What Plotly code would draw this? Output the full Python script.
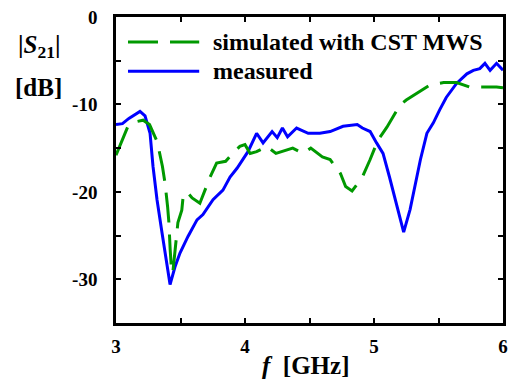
import plotly.graph_objects as go

# Measured |S21| (blue)
meas_f = [3.00, 3.05, 3.10, 3.15, 3.186, 3.225, 3.264, 3.287, 3.318, 3.357, 3.395, 3.419,
          3.457, 3.496, 3.558, 3.628, 3.674, 3.752, 3.829, 3.884, 3.938, 3.984, 4.023,
          4.09, 4.14, 4.21, 4.25, 4.29, 4.33, 4.40, 4.49, 4.58, 4.66, 4.76, 4.87, 4.91,
          4.97, 5.02, 5.07, 5.12, 5.16, 5.20, 5.23, 5.28, 5.32, 5.36, 5.41, 5.46, 5.51,
          5.56, 5.64, 5.72, 5.77, 5.82, 5.86, 5.90, 5.95, 6.00]
meas_db = [-12.3, -12.2, -11.6, -11.1, -10.8, -11.3, -13.3, -17.1, -20.9, -24.7, -28.6, -30.6,
           -28.6, -27.0, -25.1, -23.2, -22.6, -20.9, -19.8, -18.3, -17.3, -16.3, -15.4,
           -13.3, -14.4, -13.1, -13.8, -12.7, -13.7, -12.7, -13.3, -13.3, -13.1, -12.5, -12.3, -12.7,
           -13.1, -14.4, -15.6, -18.3, -20.6, -22.9, -24.6, -22.0, -19.0, -16.3, -13.3, -12.1, -10.6,
           -9.2, -7.6, -6.5, -6.1, -5.9, -5.3, -6.1, -5.3, -6.1]

# Simulated with CST MWS (green dashed)
sim_f = [3.00, 3.05, 3.09, 3.147, 3.21, 3.26, 3.32, 3.36, 3.38, 3.40, 3.41, 3.42, 3.43,
         3.44, 3.46, 3.48, 3.51, 3.52, 3.55, 3.59, 3.65, 3.69, 3.73, 3.78, 3.85, 3.91,
         3.96, 4.00, 4.04, 4.09, 4.17, 4.24, 4.32, 4.37, 4.45, 4.51, 4.60, 4.66, 4.74,
         4.78, 4.83, 4.85, 4.91, 4.97, 5.03, 5.10, 5.15, 5.20, 5.25, 5.33, 5.43, 5.54,
         5.64, 5.74, 5.85, 5.95, 6.00]
sim_db = [-15.8, -14.1, -12.6, -12.0, -11.8, -12.3, -14.3, -17.1, -19.0, -21.7, -23.5, -26.6, -28.9,
          -29.3, -26.3, -23.5, -22.1, -20.6, -20.0, -20.7, -21.3, -19.8, -18.3, -16.7, -16.5, -15.5,
          -14.8, -14.6, -15.6, -15.4, -14.8, -15.6, -15.2, -15.0, -15.6, -15.0, -16.0, -16.3, -17.9,
          -19.4, -19.9, -19.5, -18.3, -16.3, -14.1, -12.6, -11.4, -10.1, -9.5, -8.7, -7.8, -7.5,
          -7.5, -8.0, -8.0, -8.0, -8.1]

x_ticks = [3, 3.5, 4, 4.5, 5, 5.5, 6]
x_labels = ["3", " ", "4", " ", "5", " ", "6"]
y_ticks = [-35, -30, -25, -20, -15, -10, -5, 0]
y_labels = [" ", "-30", " ", "-20", " ", "-10", " ", "0"]

legend_names = ["simulated with CST MWS", "measured"]

BLUE = "#0000ff"
GREEN = "#009900"
FONT = "Liberation Serif"

fig = go.Figure()
fig.add_trace(go.Scatter(x=meas_f, y=meas_db, mode="lines",
                         line=dict(color=BLUE, width=3), showlegend=False))
fig.add_trace(go.Scatter(x=sim_f, y=sim_db, mode="lines",
                         line=dict(color=GREEN, width=3, dash="30px,12px"), showlegend=False))

axis_common = dict(showline=True, linecolor="black", linewidth=2.5, mirror="ticks",
                   ticks="inside", ticklen=5, tickwidth=2, tickcolor="black",
                   showgrid=False, zeroline=False, automargin=False,
                   tickfont=dict(family=FONT, size=19, color="black", weight="bold"))

fig.update_xaxes(range=[3, 6], tickvals=x_ticks, ticktext=x_labels,
                 ticklabelstandoff=4, **axis_common)
fig.update_yaxes(range=[-35, 0], tickvals=y_ticks, ticktext=y_labels,
                 ticklabelstandoff=12, **axis_common)

# custom legend
leg_y = [0.918, 0.823]
leg_styles = [dict(color=GREEN, width=3, dash="30px,12px"), dict(color=BLUE, width=3)]
for name, yy, st in zip(legend_names, leg_y, leg_styles):
    fig.add_shape(type="line", xref="paper", yref="paper", x0=0.031, x1=0.215,
                  y0=yy, y1=yy, line=st)
    fig.add_annotation(xref="paper", yref="paper", x=0.245, y=yy, xanchor="left",
                       yanchor="middle", showarrow=False, text="<b>" + name + "</b>",
                       font=dict(family=FONT, size=24, color="black"))

# axis titles
fig.add_annotation(xref="paper", yref="paper", x=-0.2, y=0.905, xanchor="center",
                   yanchor="middle", showarrow=False,
                   text="<b>|<i>S</i><sub>21</sub>|</b>",
                   font=dict(family=FONT, size=25, color="black"))
fig.add_annotation(xref="paper", yref="paper", x=-0.2, y=0.77, xanchor="center",
                   yanchor="middle", showarrow=False, text="<b>[dB]</b>",
                   font=dict(family=FONT, size=25, color="black"))
fig.add_annotation(xref="paper", yref="paper", x=0.49, y=-0.14, xanchor="center",
                   yanchor="middle", showarrow=False, text="<b><i>f</i>  [GHz]</b>",
                   font=dict(family=FONT, size=25, color="black"))

fig.update_layout(width=511, height=383, margin=dict(l=116, r=8, t=17, b=60),
                  plot_bgcolor="white", paper_bgcolor="white", showlegend=False)

fig.write_html("out.html")
